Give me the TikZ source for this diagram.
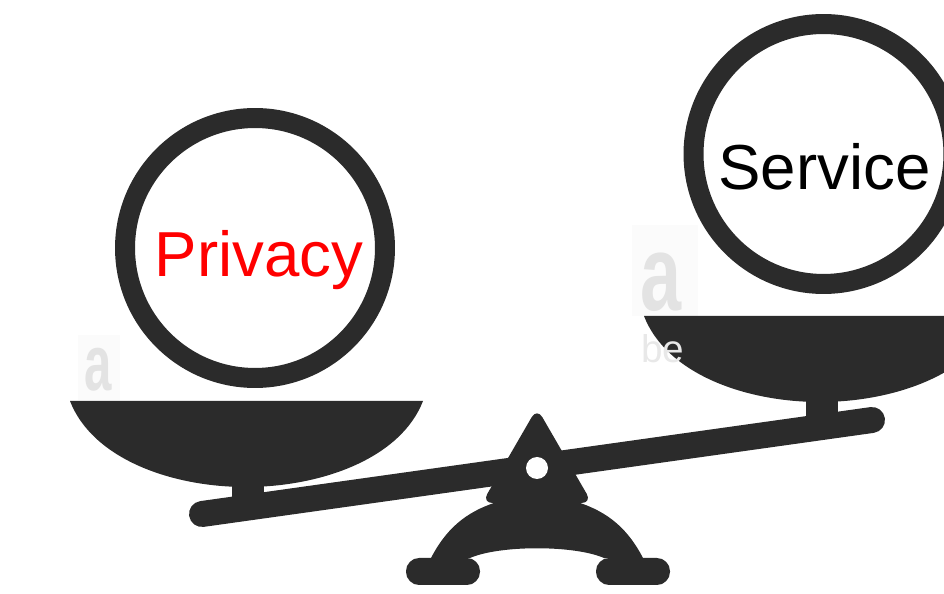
\documentclass[tikz,border=0pt]{standalone}
\usepackage{fontspec}
\setmainfont{Liberation Sans}
\definecolor{scaleink}{HTML}{2B2B2B}
\begin{document}
\begin{tikzpicture}[x=0.02cm, y=-0.02cm]
        \tikzset{weight/.style={circle, draw=scaleink, line width=0.4cm, minimum size=5.2cm, inner sep=0pt},
                 footpad/.style={fill=scaleink, rounded corners=7.5pt},
                 wordlabel/.style={anchor=base, font=\fontsize{36.2}{36}\selectfont},
                 stockmark/.style={text=black!11, font=\bfseries\fontsize{28}{28}\selectfont}}
        \useasboundingbox (0,0) rectangle (944,594);
        \clip (0,0) rectangle (944,594);
        % faint patches left in the source image
        \fill[black!1.5] (78,335) rectangle (120,400);
        \fill[black!1.5] (632,225) rectangle (698,316);
        \node[stockmark] (markleft) at (98,370) {\scalebox{1}[1.6]{a}};
        \node[stockmark, font=\bfseries\fontsize{42}{42}\selectfont] (markright) at (661,282) {\scalebox{1}[1.45]{a}};
        % weights
        \node[weight] (privacy) at (255,248) {};
        \node[weight] (service) at (823.5,154) {};
        \fill[white] (395.5,0) rectangle (632,375);
        % pans
        \fill[scaleink] (70,401) .. controls (92,458) and (170,487) .. (246,487)
            .. controls (322,487) and (401,458) .. (423,401) -- cycle;
        \fill[scaleink] (644,316) .. controls (666,373) and (744,402) .. (820,402)
            .. controls (896,402) and (975,373) .. (997,316) -- cycle;
        \node[stockmark, font=\fontsize{22}{22}\selectfont, text=black!9] (markbe) at (663,349) {be};
        % beam and stems
        \draw[scaleink, line width=0.52cm, line cap=round] (202,514) -- (872,420);
        \fill[scaleink] (232,480) rectangle (264,505);
        \fill[scaleink] (806,398) rectangle (838,422);
        % fulcrum
        \fill[scaleink, rounded corners=6pt] (537,408) -- (482,503) -- (592,503) -- cycle;
        \fill[scaleink] (497,502) .. controls (465,512) and (445,530) .. (430,560)
            -- (470,558) .. controls (500,545) and (574,545) .. (604,558)
            -- (644,560) .. controls (629,530) and (609,512) .. (577,502) -- cycle;
        \fill[footpad] (406,558) rectangle (480,585);
        \fill[footpad] (596,558) rectangle (670,585);
        \fill[white] (537,468) circle (11);
        % labels
        \node[wordlabel, text=red] (privacytext) at (259,277) {Privacy};
        \node[wordlabel, text=black] (servicetext) at (824.5,190) {Service};
    \end{tikzpicture}
\end{document}
